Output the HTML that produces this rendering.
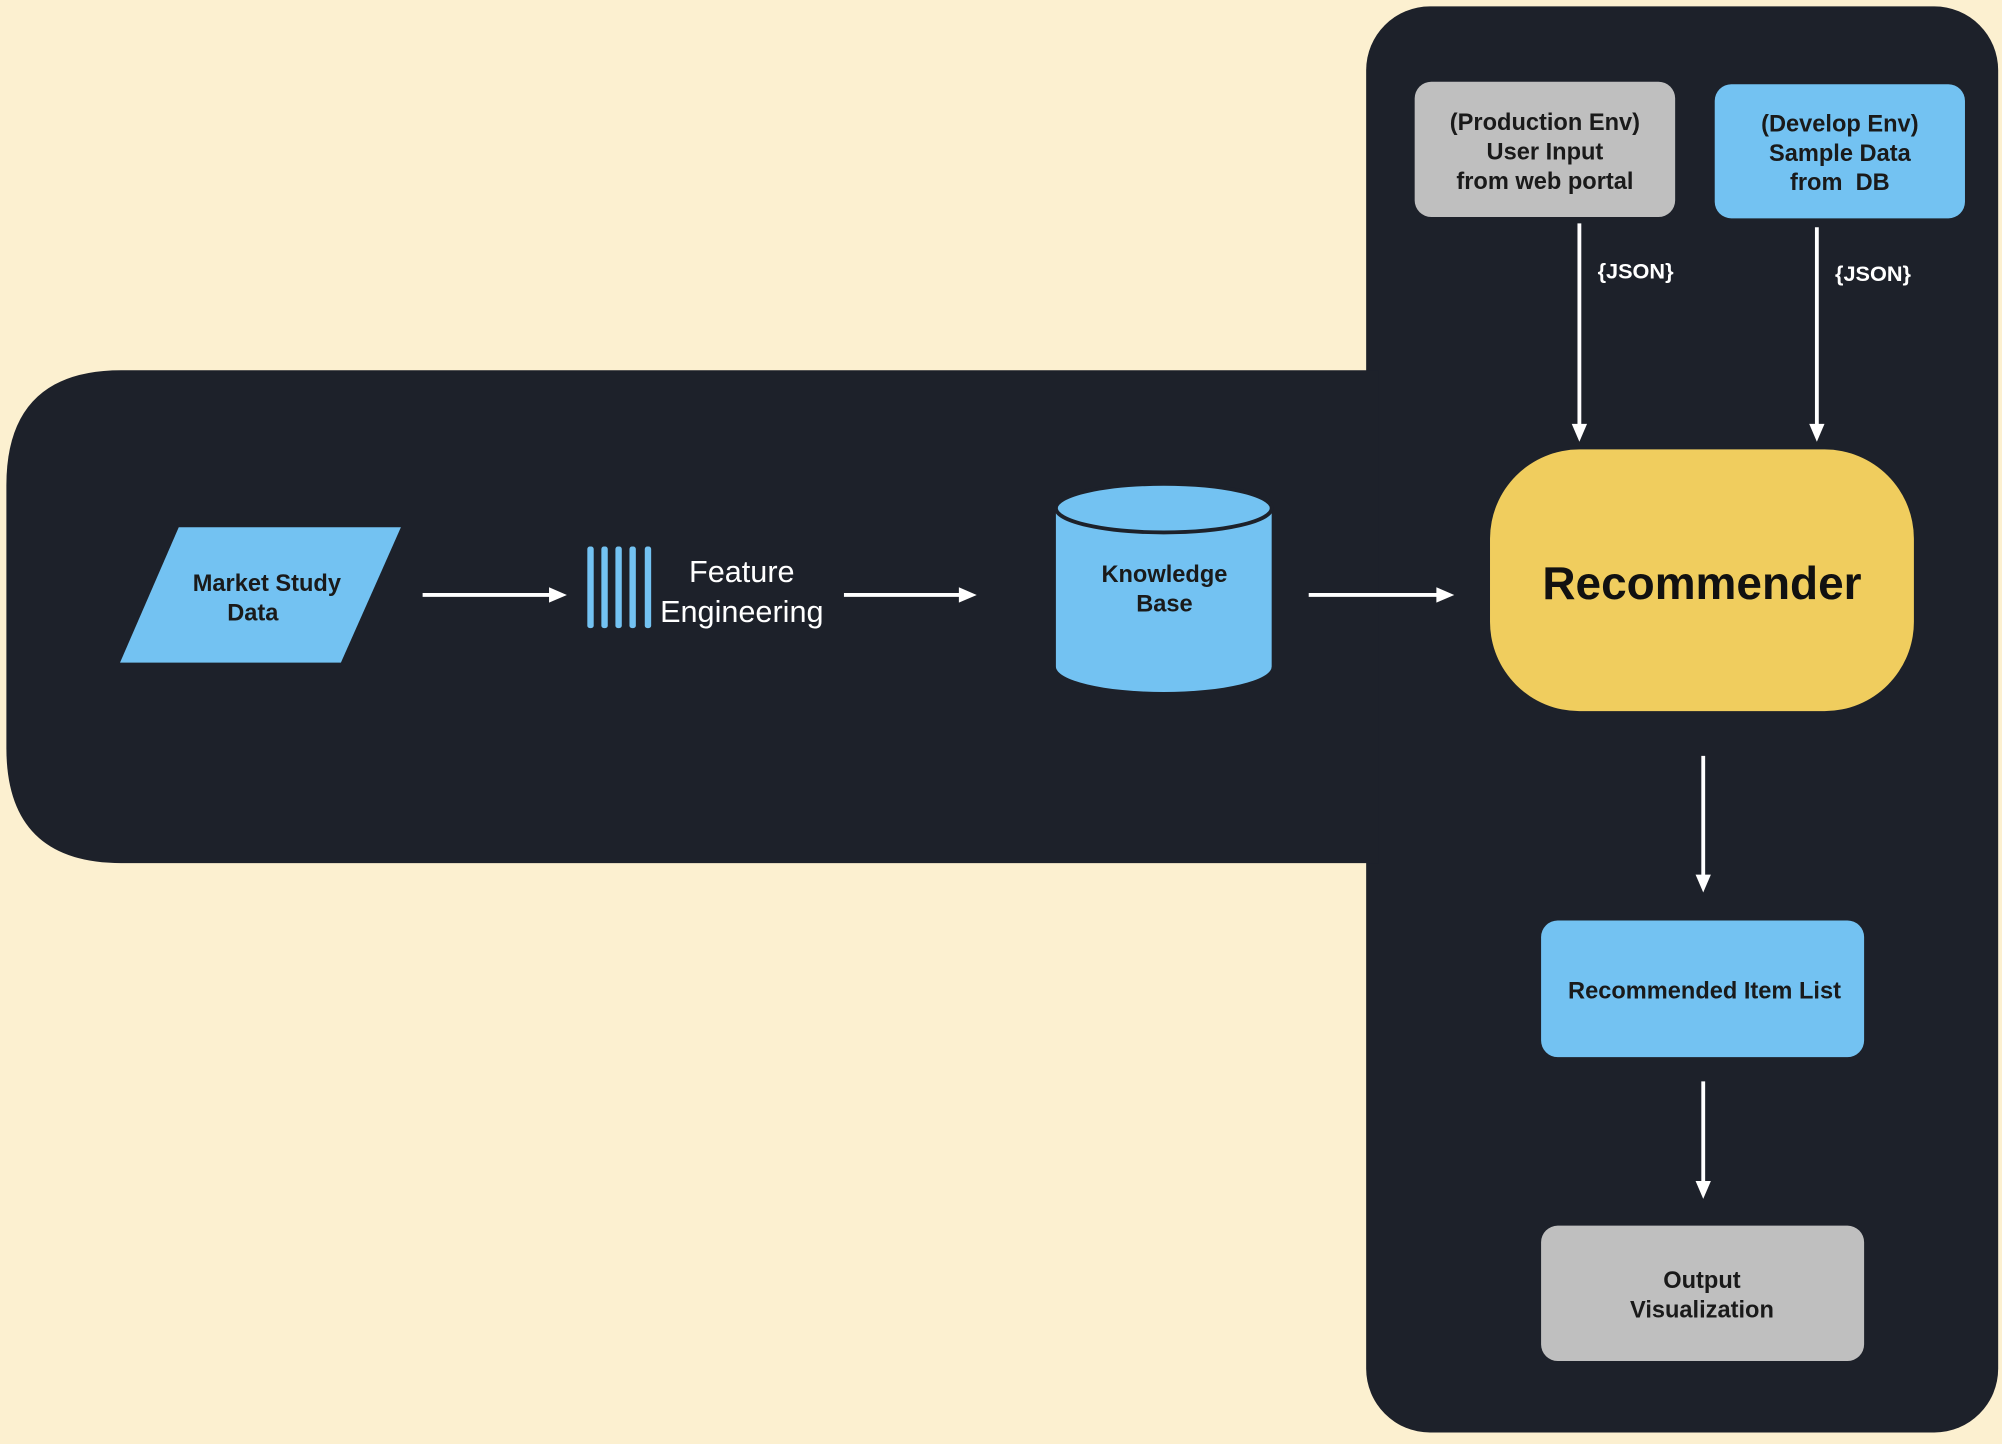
<!DOCTYPE html>
<html><head><meta charset="utf-8"><style>
html,body{margin:0;padding:0;background:#fcf0d0;}
svg{display:block}
text{font-family:"Liberation Sans",sans-serif;}
</style></head><body>
<svg width="2002" height="1444" viewBox="0 0 1568 1131" preserveAspectRatio="none" xmlns="http://www.w3.org/2000/svg">
<rect width="1568" height="1131" fill="#fcf0d0"/>
<rect x="1070" y="5" width="495" height="1117" rx="50" fill="#1d212a"/>
<path d="M95,290 L1080,290 L1080,676 L95,676 Q5,676 5,586 L5,380 Q5,290 95,290 z" fill="#1d212a"/>

<g stroke="#fff" stroke-width="3" fill="none">
<line x1="1237" y1="175" x2="1237" y2="333"/>
<line x1="1423" y1="178" x2="1423" y2="333"/>
<line x1="1334" y1="592" x2="1334" y2="686"/>
<line x1="1334" y1="847" x2="1334" y2="926"/>
<line x1="331" y1="466" x2="431" y2="466"/>
<line x1="661" y1="466" x2="752" y2="466"/>
<line x1="1025" y1="466" x2="1126" y2="466"/>
</g>
<g fill="#fff">
<path d="M1231,332 L1243,332 L1237,346 z"/>
<path d="M1417,332 L1429,332 L1423,346 z"/>
<path d="M1328,685 L1340,685 L1334,699 z"/>
<path d="M1328,925 L1340,925 L1334,939 z"/>
<path d="M430,460 L430,472 L444,466 z"/>
<path d="M751,460 L751,472 L765,466 z"/>
<path d="M1125,460 L1125,472 L1139,466 z"/>
</g>

<rect x="1108" y="64" width="204" height="106" rx="13" fill="#bfbfbf"/>
<g font-size="18.5" font-weight="bold" fill="#1a1a1a" text-anchor="middle">
<text x="1210" y="102">(Production Env)</text>
<text x="1210" y="125">User Input</text>
<text x="1210" y="148">from web portal</text>
</g>
<rect x="1343" y="66" width="196" height="105" rx="13" fill="#73c2f2"/>
<g font-size="18.5" font-weight="bold" fill="#1a1a1a" text-anchor="middle">
<text x="1441" y="103">(Develop Env)</text>
<text x="1441" y="126">Sample Data</text>
<text x="1441" y="149">from&#160;&#160;DB</text>
</g>
<g font-size="17" font-weight="bold" fill="#fff" text-anchor="middle">
<text x="1281" y="218">{JSON}</text>
<text x="1467" y="220">{JSON}</text>
</g>

<rect x="1167" y="352" width="332" height="205" rx="70" fill="#f0cd5e"/>
<text x="1333" y="469" font-size="36" font-weight="bold" fill="#111" text-anchor="middle">Recommender</text>

<rect x="1207" y="721" width="253" height="107" rx="13" fill="#73c2f2"/>
<text x="1335" y="782" font-size="18.5" font-weight="bold" fill="#1a1a1a" text-anchor="middle">Recommended Item List</text>

<rect x="1207" y="960" width="253" height="106" rx="13" fill="#bfbfbf"/>
<g font-size="18.5" font-weight="bold" fill="#1a1a1a" text-anchor="middle">
<text x="1333" y="1009">Output</text>
<text x="1333" y="1032">Visualization</text>
</g>

<path d="M140,413 L314,413 L267,519 L94,519 z" fill="#73c2f2"/>
<g font-size="18.5" font-weight="bold" fill="#1a1a1a" text-anchor="middle">
<text x="209" y="463">Market Study</text>
<text x="198" y="486">Data</text>
</g>

<g fill="#73c2f2">
<rect x="460" y="428" width="5" height="64" rx="2"/>
<rect x="471" y="428" width="5" height="64" rx="2"/>
<rect x="482" y="428" width="5" height="64" rx="2"/>
<rect x="493" y="428" width="5" height="64" rx="2"/>
<rect x="505" y="428" width="5" height="64" rx="2"/>
</g>
<g font-size="24" fill="#fff" text-anchor="middle">
<text x="581" y="456">Feature</text>
<text x="581" y="487">Engineering</text>
</g>

<path d="M827,398 L827,522 A84.5,20 0 0 0 996,522 L996,398 z" fill="#73c2f2"/>
<ellipse cx="911.5" cy="398" rx="84.5" ry="19" fill="#73c2f2" stroke="#1d212a" stroke-width="3"/>
<g font-size="18.5" font-weight="bold" fill="#1a1a1a" text-anchor="middle">
<text x="912" y="456">Knowledge</text>
<text x="912" y="479">Base</text>
</g>
</svg>
</body></html>
